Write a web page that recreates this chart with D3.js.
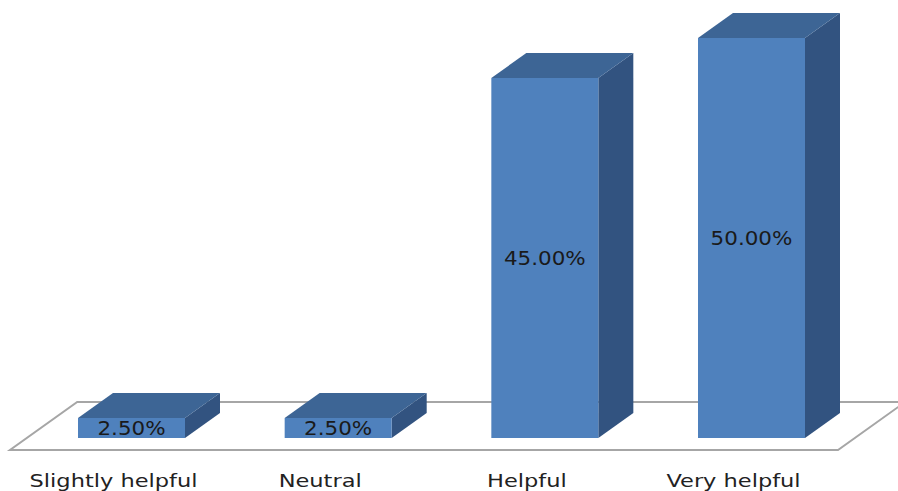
<!DOCTYPE html>
<html>
<head>
<meta charset="utf-8">
<script src="https://cdn.jsdelivr.net/npm/d3@7"></script>
<style>
  html, body { margin: 0; padding: 0; background: #fff; }
  svg { display: block; }
</style>
</head>
<body>
<script>
const categories = ["Slightly helpful", "Neutral", "Helpful", "Very helpful"];
const values = [2.5, 2.5, 45, 50];
const valueLabels = ["2.50%", "2.50%", "45.00%", "50.00%"];

const W = 898, H = 491;
const svg = d3.select("body").append("svg").attr("width", W).attr("height", H);

const x = d3.scalePoint().domain(categories).range([131.5, 751.5]);
const y = d3.scaleLinear().domain([0, 50]).range([438, 38]);
const barW = 107;
const dx = 35, dy = 25;     // bar depth
const fdx = 17, fdy = 12;   // bar front offset from floor front

// floor
const floorFrontY = y(0) + fdy;
const floorBackY = y(0) - dy - 11;
const floorD = floorFrontY - floorBackY;
const floorDx = floorD * dx / dy;
const fl = 10, fr = 838;
svg.append("polygon")
  .attr("points", [[fl, floorFrontY], [fr, floorFrontY], [fr + floorDx, floorBackY], [fl + floorDx, floorBackY]].map(p => p.join(",")).join(" "))
  .attr("fill", "#fff")
  .attr("stroke", "#a6a6a6")
  .attr("stroke-width", 2);

const g = svg.append("g");
categories.forEach((c, i) => {
  const x0 = x(c) - barW / 2, x1 = x(c) + barW / 2;
  const yt = y(values[i]), yb = y(0);
  // side
  g.append("polygon")
    .attr("points", [[x1, yt], [x1 + dx, yt - dy], [x1 + dx, yb - dy], [x1, yb]].map(p => p.join(",")).join(" "))
    .attr("fill", "#325380");
  // top
  g.append("polygon")
    .attr("points", [[x0, yt], [x0 + dx, yt - dy], [x1 + dx, yt - dy], [x1, yt]].map(p => p.join(",")).join(" "))
    .attr("fill", "#3d6595");
  // front
  g.append("rect")
    .attr("x", x0).attr("y", yt).attr("width", barW).attr("height", yb - yt)
    .attr("fill", "#4f81bd");
  // value label
  const cy = (yt + yb) / 2;
  g.append("text")
    .attr("transform", `translate(${x(c)},${cy + 7}) scale(1.13,1)`)
    .attr("text-anchor", "middle")
    .attr("font-family", "DejaVu Sans, Verdana, sans-serif")
    .attr("font-size", 19)
    .attr("fill", "#1a1a1a")
    .text(valueLabels[i]);
  // category label
  svg.append("text")
    .attr("transform", `translate(${x(c) - fdx - 1},${487}) scale(1.25,1)`)
    .attr("text-anchor", "middle")
    .attr("font-family", "DejaVu Sans, Verdana, sans-serif")
    .attr("font-size", 18)
    .attr("fill", "#222")
    .text(c);
});
</script>
</body>
</html>
